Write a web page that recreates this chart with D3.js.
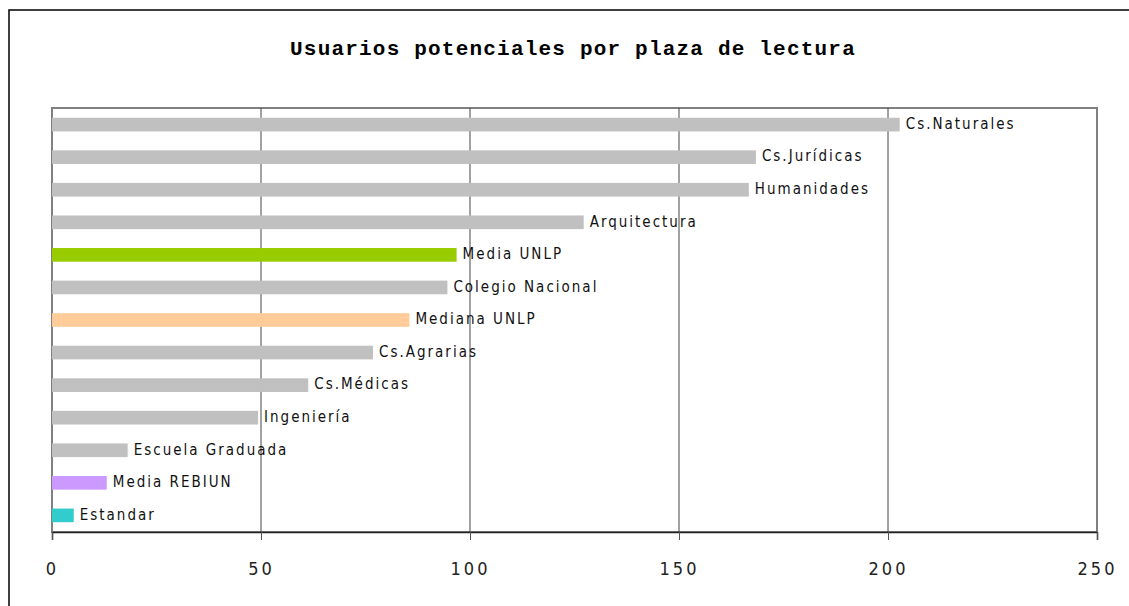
<!DOCTYPE html>
<html>
<head>
<meta charset="utf-8">
<script src="https://cdn.jsdelivr.net/npm/d3@7"></script>
<style>
  body { margin: 0; background: #fff; }
  svg { display: block; }
  .title { font-family: "Liberation Mono", "DejaVu Sans Mono", monospace; font-weight: bold; }
  .lbl { font-family: "Liberation Sans Narrow", "DejaVu Sans Condensed", "Liberation Sans", sans-serif; font-stretch: condensed; }
</style>
</head>
<body>
<div id="graphic"></div>
<script>
// Data
var categories = ["Cs.Naturales", "Cs.Jurídicas", "Humanidades", "Arquitectura", "Media UNLP",
    "Colegio Nacional", "Mediana UNLP", "Cs.Agrarias", "Cs.Médicas", "Ingeniería",
    "Escuela Graduada", "Media REBIUN", "Estandar"];
var values = [202.8, 168.4, 166.7, 127.2, 96.8, 94.6, 85.5, 76.8, 61.3, 49.3, 18.1, 13.1, 5.2];
var barColors = ["#c0c0c0", "#c0c0c0", "#c0c0c0", "#c0c0c0", "#99cc00", "#c0c0c0", "#ffcc99",
    "#c0c0c0", "#c0c0c0", "#c0c0c0", "#c0c0c0", "#cc99ff", "#33cccc"];
var tickValues = [0, 50, 100, 150, 200, 250];

var width = 1129, height = 606;

var svg = d3.select('#graphic').append('svg')
    .attr('width', width)
    .attr('height', height);

// outer chart border (runs off the right and bottom edges)
svg.append('rect')
    .attr('x', 9).attr('y', 10)
    .attr('width', 1140).attr('height', 620)
    .attr('fill', 'none')
    .attr('stroke', '#000')
    .attr('stroke-width', 1.5);

// title
svg.append('text')
    .attr('class', 'title')
    .attr('x', 573).attr('y', 55)
    .attr('text-anchor', 'middle')
    .style('font-size', '21px')
    .style('letter-spacing', '1.2px')
    .text('Usuarios potenciales por plaza de lectura');

var plot = { left: 52, right: 1097, top: 108, bottom: 532 };

var x = d3.scaleLinear().domain([0, 250]).range([plot.left, plot.right]);
var y = d3.scaleBand().domain(categories).range([plot.top, plot.bottom]).paddingInner(0.58).paddingOuter(0.3);

// plot frame
svg.append('rect')
    .attr('x', plot.left).attr('y', plot.top)
    .attr('width', plot.right - plot.left).attr('height', plot.bottom - plot.top)
    .attr('fill', 'none')
    .attr('stroke', '#808080')
    .attr('stroke-width', 2);

// gridlines
svg.append('g').selectAll('line')
    .data(tickValues.slice(1, -1))
    .enter().append('line')
    .attr('x1', function(d) { return x(d); })
    .attr('x2', function(d) { return x(d); })
    .attr('y1', plot.top).attr('y2', plot.bottom)
    .attr('stroke', '#444')
    .attr('stroke-width', 1);

// bars
svg.append('g').selectAll('rect')
    .data(values)
    .enter().append('rect')
    .attr('x', x(0))
    .attr('y', function(d, i) { return y(categories[i]); })
    .attr('width', function(d) { return x(d) - x(0); })
    .attr('height', y.bandwidth())
    .attr('fill', function(d, i) { return barColors[i]; });

// bar labels
svg.append('g').selectAll('text')
    .data(values)
    .enter().append('text')
    .attr('class', 'lbl')
    .attr('x', function(d) { return x(d) + 6; })
    .attr('y', function(d, i) { return y(categories[i]) + y.bandwidth() / 2 - 1; })
    .attr('dy', '0.35em')
    .style('font-size', '15px')
    .style('letter-spacing', '2px')
    .attr('fill', '#111')
    .text(function(d, i) { return categories[i]; });

// x axis
var xAxis = d3.axisBottom(x)
    .tickValues(tickValues)
    .tickSize(8)
    .tickPadding(22)
    .tickFormat(d3.format('d'));

var axisG = svg.append('g')
    .attr('transform', 'translate(0,' + plot.bottom + ')')
    .call(xAxis);

axisG.select('.domain').attr('stroke', '#222').attr('stroke-width', 1.5);
axisG.selectAll('.tick line').attr('stroke', '#555');
axisG.selectAll('.tick text')
    .attr('class', 'lbl')
    .attr('fill', '#222')
    .style('font-size', '18px')
    .style('letter-spacing', '3px');
</script>
</body>
</html>
